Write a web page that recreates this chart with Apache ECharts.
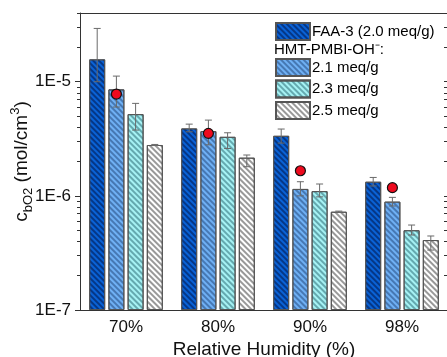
<!DOCTYPE html>
<html><head><meta charset="utf-8">
<script src="https://cdn.jsdelivr.net/npm/echarts@6/dist/echarts.min.js"></script>
<style>html,body{margin:0;padding:0;background:#fff}#c{width:447px;height:357px}</style>
</head><body><div id="c"></div>
<script>
// ---- data ----
const categories = ['70%', '80%', '90%', '98%'];
const seriesNames = ['FAA-3 (2.0 meq/g)', '2.1 meq/g', '2.3 meq/g', '2.5 meq/g'];
const faa3      = [1.57e-5, 3.90e-6, 3.36e-6, 1.33e-6];
const faa3Low   = [1.00e-5, 3.64e-6, 2.90e-6, 1.22e-6];
const faa3High  = [2.93e-5, 4.25e-6, 3.85e-6, 1.45e-6];
const m21       = [8.57e-6, 3.69e-6, 1.15e-6, 8.90e-7];
const m21Low    = [6.00e-6, 2.80e-6, 1.00e-6, 8.15e-7];
const m21High   = [1.12e-5, 4.61e-6, 1.33e-6, 9.70e-7];
const m23       = [5.20e-6, 3.29e-6, 1.10e-6, 5.00e-7];
const m23Low    = [3.77e-6, 2.60e-6, 0.98e-6, 4.54e-7];
const m23High   = [6.46e-6, 3.57e-6, 1.27e-6, 5.55e-7];
const m25       = [2.79e-6, 2.16e-6, 7.26e-7, 4.10e-7];
const m25Low    = [2.76e-6, 1.80e-6, 7.17e-7, 3.35e-7];
const m25High   = [2.82e-6, 2.28e-6, 7.35e-7, 4.45e-7];
const dots21    = [7.80e-6, 3.53e-6, 1.66e-6, 1.18e-6];
const yTickLabels = ['1E-7', '1E-6', '1E-5'];
const yMin = 1e-7, yMax = 4e-5;

// ---- helpers ----
const L0 = Math.log10(yMin);
const t = v => Math.log10(v) - L0;
const tMax = t(yMax);
const majorVals = yTickLabels.map((_, i) => i);
const minorVals = [];
for (let n = 0; n < 3; n++) for (let k = 2; k <= 9; k++) {
  const v = Math.log10(k) + n; if (v <= tMax) minorVals.push(v);
}
const allTicks = majorVals.concat(minorVals);

const FONT = 'Liberation Sans, Arial, sans-serif';
const barW = 16, barGapRatio = 0.2;
const colors = ['#0a62d6', '#6fb0f4', '#a6f2f4', '#ffffff'];
const stripe = ['rgba(0,20,70,0.55)', 'rgba(20,50,100,0.45)', 'rgba(20,80,90,0.45)', 'rgba(0,0,0,0.4)'];
const vals = [faa3, m21, m23, m25], lows = [faa3Low, m21Low, m23Low, m25Low], highs = [faa3High, m21High, m23High, m25High];

const barSeries = vals.map((arr, s) => ({
  name: seriesNames[s], type: 'bar', xAxisIndex: 0, yAxisIndex: 0,
  barWidth: barW, barGap: (barGapRatio * 100) + '%',
  data: arr.map(t),
  itemStyle: {
    color: colors[s], borderColor: '#555', borderWidth: 1,
    decal: { symbol: 'rect', symbolSize: 1, dashArrayX: [1, 0], dashArrayY: [2, 2], rotation: Math.PI / 4, color: stripe[s] }
  },
  emphasis: { disabled: true }, z: 2
}));

const errData = [];
vals.forEach((arr, s) => arr.forEach((_, i) => errData.push([i, t(lows[s][i]), t(highs[s][i]), s])));

const errSeries = {
  type: 'custom', xAxisIndex: 0, yAxisIndex: 0, z: 5, silent: true,
  encode: { x: 0, y: [1, 2] },
  data: errData,
  renderItem(params, api) {
    const ci = api.value(0), s = api.value(3);
    const lo = api.coord([ci, api.value(1)]);
    const hi = api.coord([ci, api.value(2)]);
    const x = lo[0] + (s - 1.5) * barW * (1 + barGapRatio);
    const cap = 3.5, st = { stroke: '#6a6a6a', lineWidth: 1 };
    return { type: 'group', children: [
      { type: 'line', shape: { x1: x, y1: lo[1], x2: x, y2: hi[1] }, style: st },
      { type: 'line', shape: { x1: x - cap, y1: hi[1], x2: x + cap, y2: hi[1] }, style: st },
      { type: 'line', shape: { x1: x - cap, y1: lo[1], x2: x + cap, y2: lo[1] }, style: st }
    ]};
  }
};

const dotSeries = {
  type: 'custom', xAxisIndex: 0, yAxisIndex: 0, z: 6, silent: true,
  encode: { x: 0, y: 1 },
  data: dots21.map((v, i) => [i, t(v)]),
  renderItem(params, api) {
    const p = api.coord([api.value(0), api.value(1)]);
    const x = p[0] + (1 - 1.5) * barW * (1 + barGapRatio);
    return { type: 'circle', shape: { cx: x, cy: p[1], r: 5 }, style: { fill: '#ee0a1e', stroke: '#111', lineWidth: 1.2 } };
  }
};

const axisLineStyle = { color: '#333', width: 1 };
const legendText = { fontSize: 15, lineHeight: 17, color: '#000', fontFamily: FONT, padding: [0, 0, 0, -3] };
const chart = echarts.init(document.getElementById('c'), null, { renderer: 'canvas' });
chart.setOption({
  animation: false,
  textStyle: { fontFamily: FONT },
  grid: { left: 80, top: 13, width: 368, height: 297, containLabel: false, outerBoundsMode: 'none' },
  legend: [
    { data: [seriesNames[0]], left: 275, top: 22, padding: 0, itemWidth: 34, itemHeight: 17, icon: 'rect', selectedMode: false,
      textStyle: legendText },
    { data: seriesNames.slice(1), orient: 'vertical', left: 275, top: 58, padding: 0, itemGap: 2.5, itemWidth: 34, itemHeight: 17, icon: 'rect', selectedMode: false,
      textStyle: legendText }
  ],
  graphic: [{ type: 'text', left: 274, top: 42, style: { text: 'HMT-PMBI-OH\u207B:', font: '15px ' + FONT, fill: '#000' } }],
  xAxis: [
    { type: 'category', data: categories, position: 'bottom',
      axisLine: { onZero: false, lineStyle: axisLineStyle }, axisTick: { alignWithLabel: true, length: 5, lineStyle: axisLineStyle },
      axisLabel: { fontSize: 17, color: '#111', margin: 9 },
      name: 'Relative Humidity (%)', nameLocation: 'middle', nameGap: 30, nameMoveOverlap: false,
      nameTextStyle: { fontSize: 19, color: '#111' } },
    { type: 'category', data: categories, position: 'top',
      axisLine: { onZero: false, lineStyle: axisLineStyle }, axisTick: { alignWithLabel: true, inside: true, length: 5, lineStyle: axisLineStyle },
      axisLabel: { show: false } }
  ],
  yAxis: [
    { type: 'value', min: 0, max: tMax, position: 'left',
      splitLine: { show: false },
      axisLine: { show: true, onZero: false, lineStyle: axisLineStyle },
      axisTick: { show: true, length: 5, customValues: majorVals, lineStyle: axisLineStyle },
      axisLabel: { fontSize: 17, color: '#111', margin: 9, customValues: majorVals,
        formatter: v => yTickLabels[Math.round(v)] },
      name: '{m|c}{s|bO2}{m| (mol/cm}{p|3}{m|)}', nameLocation: 'middle', nameGap: 45, nameMoveOverlap: false,
      nameTextStyle: { rich: {
        m: { fontSize: 19, color: '#111', fontFamily: FONT, lineHeight: 26, verticalAlign: 'middle' },
        s: { fontSize: 13, color: '#111', fontFamily: FONT, lineHeight: 26, verticalAlign: 'bottom', padding: [6, 0, 0, 0] },
        p: { fontSize: 13, color: '#111', fontFamily: FONT, lineHeight: 26, verticalAlign: 'top', padding: [0, 0, 8, 0] }
      } } },
    { type: 'value', min: 0, max: tMax, position: 'left',
      splitLine: { show: false }, axisLine: { show: false },
      axisTick: { show: true, length: 3, customValues: minorVals, lineStyle: axisLineStyle },
      axisLabel: { show: false } },
    { type: 'value', min: 0, max: tMax, position: 'right',
      splitLine: { show: false }, axisLine: { show: true, onZero: false, lineStyle: axisLineStyle },
      axisTick: { show: true, inside: true, length: 4, customValues: allTicks, lineStyle: axisLineStyle },
      axisLabel: { show: false } }
  ],
  series: barSeries.concat([errSeries, dotSeries])
});
</script></body></html>
